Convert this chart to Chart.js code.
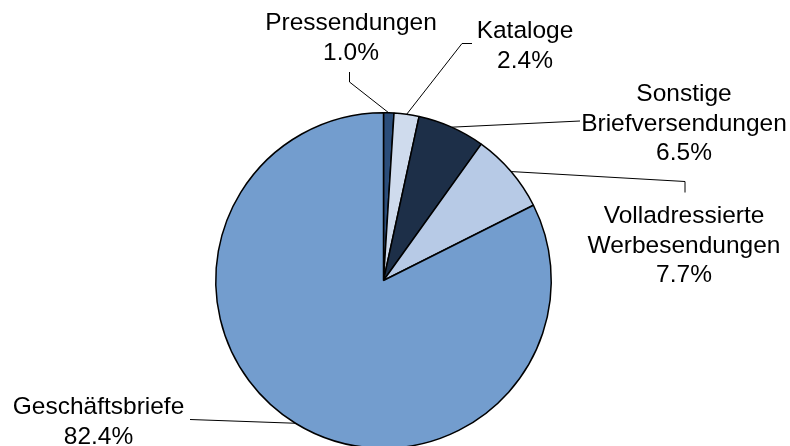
<!DOCTYPE html>
<html>
<head>
<meta charset="utf-8">
<script src="https://cdn.jsdelivr.net/npm/chart.js@4/dist/chart.umd.min.js"></script>
<style>
html,body{margin:0;padding:0;background:#fff;overflow:hidden;width:790px;height:446px;}
canvas{display:block;}
</style>
</head>
<body>
<canvas id="c" width="790" height="452"></canvas>
<script>
const categories = ["Pressendungen", "Kataloge", ["Sonstige", "Briefversendungen"], ["Volladressierte", "Werbesendungen"], "Geschäftsbriefe"];
const shares = [1.0, 2.4, 6.5, 7.7, 82.4];
const sliceColors = ["#2b4d7a", "#cfdbed", "#1d2f48", "#b7cae6", "#739dce"];

// label layout (text centre x, first baseline y, leader elbow points)
const labelLayout = [
  { cx: 351, y: 30, pts: [[349.5, 72], [349.5, 82]] },
  { cx: 525, y: 38, pts: [[472, 43.5], [462, 43.5]] },
  { cx: 684, y: 101, pts: [[580, 121]] },
  { cx: 684, y: 223, pts: [[685, 192.5], [685, 181.5]] },
  { cx: 98.5, y: 414, pts: [[190, 419.5]] }
];

const labelPlugin = {
  id: 'pieLabels',
  afterDatasetsDraw(chart) {
    const ctx = chart.ctx;
    const meta = chart.getDatasetMeta(0);
    ctx.save();
    meta.data.forEach((arc, i) => {
      const p = arc.getProps(['x', 'y', 'startAngle', 'endAngle', 'outerRadius'], true);
      const mid = (p.startAngle + p.endAngle) / 2;
      const ex = p.x + Math.cos(mid) * p.outerRadius;
      const ey = p.y + Math.sin(mid) * p.outerRadius;
      const L = labelLayout[i];
      ctx.beginPath();
      ctx.strokeStyle = '#000';
      ctx.lineWidth = 1;
      ctx.moveTo(L.pts[0][0], L.pts[0][1]);
      for (let k = 1; k < L.pts.length; k++) ctx.lineTo(L.pts[k][0], L.pts[k][1]);
      ctx.lineTo(ex, ey);
      ctx.stroke();
      const name = categories[i];
      const lines = (Array.isArray(name) ? name.slice() : [name]);
      lines.push(shares[i].toFixed(1) + '%');
      ctx.fillStyle = '#000';
      ctx.font = '24.5px "Liberation Sans", Arial, sans-serif';
      ctx.textAlign = 'center';
      ctx.textBaseline = 'alphabetic';
      lines.forEach((t, j) => ctx.fillText(t, L.cx, L.y + j * 29.5));
    });
    ctx.restore();
  }
};

new Chart(document.getElementById('c'), {
  type: 'pie',
  data: {
    labels: categories,
    datasets: [{
      data: shares,
      backgroundColor: sliceColors,
      borderColor: '#000',
      borderWidth: 1.5
    }]
  },
  options: {
    responsive: false,
    animation: false,
    layout: { padding: { top: 112, bottom: 3, left: 0, right: 23 } },
    plugins: {
      legend: { display: false },
      tooltip: { enabled: false }
    }
  },
  plugins: [labelPlugin]
});
</script>
</body>
</html>
